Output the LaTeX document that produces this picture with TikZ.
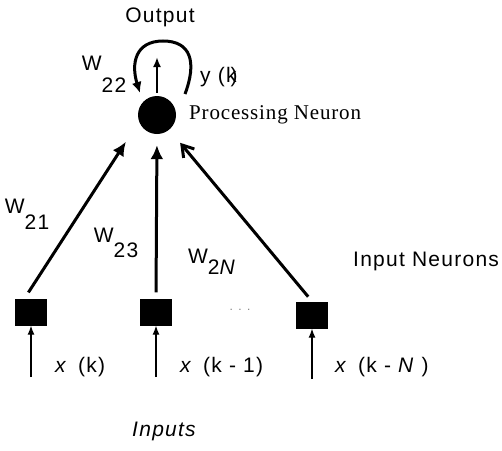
\documentclass[tikz,border=0pt]{standalone}
\usepackage{fontspec}
\setmainfont[LetterSpace=6]{Liberation Sans}
\newfontfamily\serifn[LetterSpace=4]{Liberation Serif}
\usetikzlibrary{arrows.meta}
\begin{document}
\begin{tikzpicture}[x=1pt,y=-1pt,
  lab/.style={inner sep=0pt,font=\fontsize{21}{23}\selectfont},
  inneuron/.style={fill=black,minimum width=32pt,minimum height=27pt,inner sep=0pt},
  big/.style={line width=3pt,-{Latex[length=14pt,width=13pt]}},
  bigopen/.style={line width=3pt,-{Straight Barb[length=11pt,width=14pt,line width=3pt]}},
  thin/.style={line width=1.2pt,-{Latex[length=9pt,width=7pt]}}]
\useasboundingbox (0,0) rectangle (502,450);
% processing neuron
\node[circle,fill=black,minimum size=38pt,inner sep=0pt] (pn) at (157,115) {};
\node[lab,font=\fontsize{21}{23}\serifn,anchor=west] (pnl) at (189,115) {Processing Neuron};
\node[lab] (out) at (160,17) {Output};
% output arrow and loop
\coordinate (o1) at (157,57);
\coordinate (lr) at (185,94);
\coordinate (ll) at (140,93);
\draw[line width=2pt,-{Latex[length=10pt,width=8pt]}] (pn.north) ++(0,-3) -- (o1);
\draw[line width=3pt,-{Latex[length=11pt,width=10pt]}] (lr) .. controls (197,62) and (191,41) .. (163,41) .. controls (135,41) and (131,64) .. (ll);
\node[lab] (w22) at (104,74) {W\raisebox{-22pt}{22}};
\node[lab,anchor=west] (yk) at (200,77) {y (k\kern-6pt)};
% input neurons
\node[inneuron] (n1) at (31,312) {};
\node[inneuron] (n2) at (156,312) {};
\node[inneuron] (n3) at (312,315) {};
\node[lab,font=\fontsize{12}{14}\selectfont,text=gray] (dots) at (240,310) {. . .};
\node[lab,anchor=west] (inl) at (353,261) {Input Neurons};
% connections
\draw[big,shorten <=7pt,shorten >=24pt] (n1.115) -- (pn.200);
\draw[big,shorten <=6pt,shorten >=11pt] (n2.north) -- (pn.south);
\draw[bigopen,shorten <=6pt,shorten >=17pt] (n3.north) -- (pn);
\node[lab] (w21) at (27,214) {W\raisebox{-16pt}{21}};
\node[lab] (w23) at (116,243) {W\raisebox{-15pt}{23}};
\node[lab] (w2n) at (212,262) {W\raisebox{-11pt}{2\textit{N}}};
% inputs
\coordinate (i1) at (31,377);
\coordinate (i2) at (156,377);
\coordinate (i3) at (312,379);
\draw[thin] (i1) -- (n1);
\draw[thin] (i2) -- (n2);
\draw[thin] (i3) -- (n3);
\node[lab,anchor=west] (x1) at (55,367) {\textit{x} \,(k)};
\node[lab,anchor=west] (x2) at (180,367) {\textit{x} \,(k - 1)};
\node[lab,anchor=west] (x3) at (335,367) {\textit{x} \,(k - \textit{N} )};
\node[lab,font=\fontsize{21}{23}\selectfont\itshape] (inp) at (164,431) {Inputs};
\end{tikzpicture}
\end{document}
